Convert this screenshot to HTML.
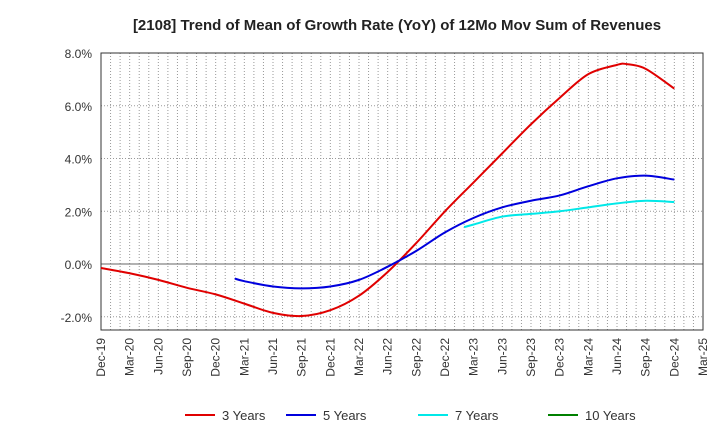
<!DOCTYPE html>
<html><head><meta charset="utf-8"><style>
body{margin:0;background:#fff;font-family:"Liberation Sans",Arial,sans-serif;}
</style></head><body>
<svg id="c" width="720" height="440" xmlns="http://www.w3.org/2000/svg">
<text x="397" y="30" text-anchor="middle" font-size="15" font-weight="bold" fill="#222">[2108]  Trend of Mean of Growth Rate (YoY) of 12Mo Mov Sum of Revenues</text>
</svg>
<script>
const xLabels=["Dec-19","Mar-20","Jun-20","Sep-20","Dec-20","Mar-21","Jun-21","Sep-21","Dec-21","Mar-22","Jun-22","Sep-22","Dec-22","Mar-23","Jun-23","Sep-23","Dec-23","Mar-24","Jun-24","Sep-24","Dec-24","Mar-25"];
const yTicks=[-2,0,2,4,6,8];
const s3Months=[0,3,6,9,12,15,18,21,24,27,30,33,36,39,42,45,48,51,54,55,57,60];
const s3Values=[-0.15,-0.35,-0.6,-0.9,-1.15,-1.5,-1.85,-1.97,-1.75,-1.2,-0.3,0.8,2.0,3.1,4.2,5.3,6.3,7.2,7.55,7.58,7.4,6.65];
const s5Months=[14,15,18,21,24,27,30,33,36,39,42,45,48,51,54,57,60];
const s5Values=[-0.55,-0.65,-0.85,-0.92,-0.85,-0.6,-0.1,0.5,1.2,1.75,2.15,2.4,2.6,2.95,3.25,3.35,3.2];
const s7Months=[38,39,42,45,48,51,54,57,60];
const s7Values=[1.4,1.5,1.8,1.9,2.0,2.15,2.3,2.4,2.35];
const legendNames=["3 Years","5 Years","7 Years","10 Years"];
const legendColors=["#e00000","#0000dd","#00e8e8","#008000"];

const L=101,R=703,T=53,B=330,yMin=-2.5,yMax=8.0;
const X=m=>L+m*(R-L)/63;
const Y=v=>T+(8-v)*(B-T)/(yMax-yMin);
const svg=document.getElementById('c');
const NS="http://www.w3.org/2000/svg";
function mk(t,a){const e=document.createElementNS(NS,t);for(const k in a)e.setAttribute(k,a[k]);svg.appendChild(e);return e;}
for(let m=1;m<63;m++){const g=mk('line',{x1:X(m),x2:X(m),y1:T,y2:B,stroke:'#999','stroke-dasharray':'1,2','stroke-width':1});

}
yTicks.forEach(v=>{const g=mk('line',{x1:L,x2:R,y1:Y(v),y2:Y(v),stroke:v===0?'#666':'#999','stroke-dasharray':v===0?'':'1,2','stroke-width':1});


const t=mk('text',{x:L-9,y:Y(v)+5,'text-anchor':'end','font-size':12,fill:'#333'});t.textContent=v.toFixed(1)+'%';

});
const fr=mk('rect',{x:L,y:T,width:R-L,height:B-T,fill:'none',stroke:'#333','stroke-width':1});


xLabels.forEach((s,i)=>{const x=X(i*3);const t=mk('text',{x:0,y:0,'text-anchor':'end','font-size':12,fill:'#333',transform:`translate(${x+4},${B+8}) rotate(-90)`});t.textContent=s;

});
function path(ms,vs){const p=ms.map((m,i)=>[X(m),Y(vs[i])]);let d=`M${p[0][0]},${p[0][1]}`;
for(let i=0;i<p.length-1;i++){const p0=p[i-1]||p[i],p1=p[i],p2=p[i+1],p3=p[i+2]||p2;
d+=` C${p1[0]+(p2[0]-p0[0])/6},${p1[1]+(p2[1]-p0[1])/6} ${p2[0]-(p3[0]-p1[0])/6},${p2[1]-(p3[1]-p1[1])/6} ${p2[0]},${p2[1]}`;}return d;}
[[s3Months,s3Values,0,'series-3-years'],[s5Months,s5Values,1,'series-5-years'],[s7Months,s7Values,2,'series-7-years']].forEach(([ms,vs,c,n])=>{
const e=mk('path',{d:path(ms,vs),fill:'none',stroke:legendColors[c],'stroke-width':2});

});
const lx=[185,286,418,548];
legendNames.forEach((n,i)=>{const l=mk('line',{x1:lx[i],x2:lx[i]+30,y1:415,y2:415,stroke:legendColors[i],'stroke-width':2});


const t=mk('text',{x:lx[i]+37,y:420,'font-size':13,fill:'#333'});t.textContent=n;

});
</script>
</body></html>
